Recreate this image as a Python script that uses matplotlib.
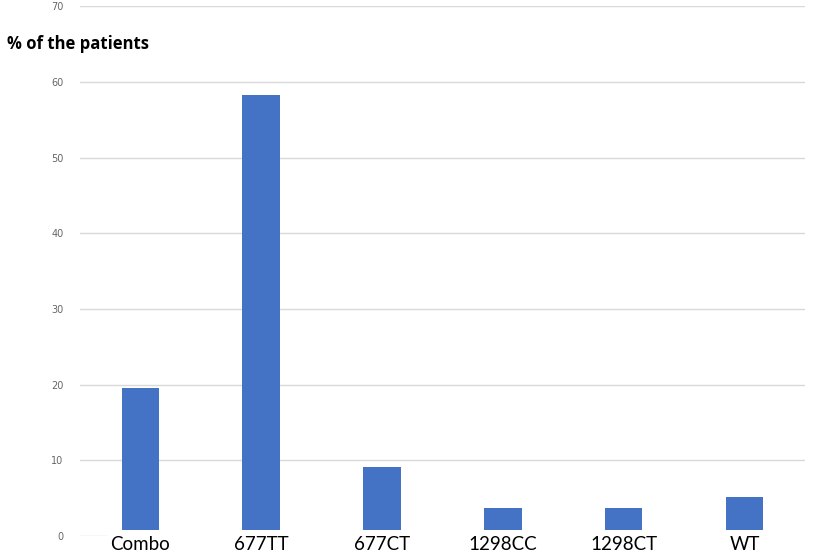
import matplotlib.pyplot as plt
from matplotlib.patches import Rectangle

categories = ["Combo", "677TT", "677CT", "1298CC", "1298CT", "WT"]
percent = [19.5, 58.3, 9.1, 3.7, 3.7, 5.1]
y_ticks = [0, 10, 20, 30, 40, 50, 60, 70]


def plotData():
    fig = plt.figure(figsize=(8.13, 5.58), dpi=100)
    ax = fig.add_axes([0.0984, 0.0394, 0.8916, 0.9496])

    x = list(range(len(categories)))
    ax.bar(x, percent, width=0.31, color="#4472C4", zorder=2)

    ax.set_xlim(-0.5, len(categories) - 0.5)
    ax.set_ylim(0, 70)
    ax.set_yticks(y_ticks)
    ax.set_axisbelow(True)
    ax.grid(axis="y", color="#D9D9D9", linewidth=1)
    for s in ax.spines.values():
        s.set_visible(False)

    ax.tick_params(axis="y", length=0, pad=12, labelsize=7, labelcolor="#666666")
    ax.tick_params(axis="x", length=0, pad=0)
    ax.set_xticks(x)
    ax.set_xticklabels(categories, fontsize=13.5, family="Lato", color="black")
    ax.xaxis.set_zorder(5)

    # white strip under the category labels (covers baseline gridline)
    strip = Rectangle((27 / 725, -0.05), 1.0, 0.0613, transform=ax.transAxes,
                      facecolor="white", edgecolor="none", clip_on=False, zorder=3)
    ax.add_patch(strip)

    fig.text(7 / 813, 1 - 44 / 558, "% of the patients", fontsize=12,
             fontweight="bold", family="Open Sans", va="center", ha="left")

    fig.savefig("out.png", dpi=100)


def main():
    plotData()


if __name__ == '__main__':
    main()
